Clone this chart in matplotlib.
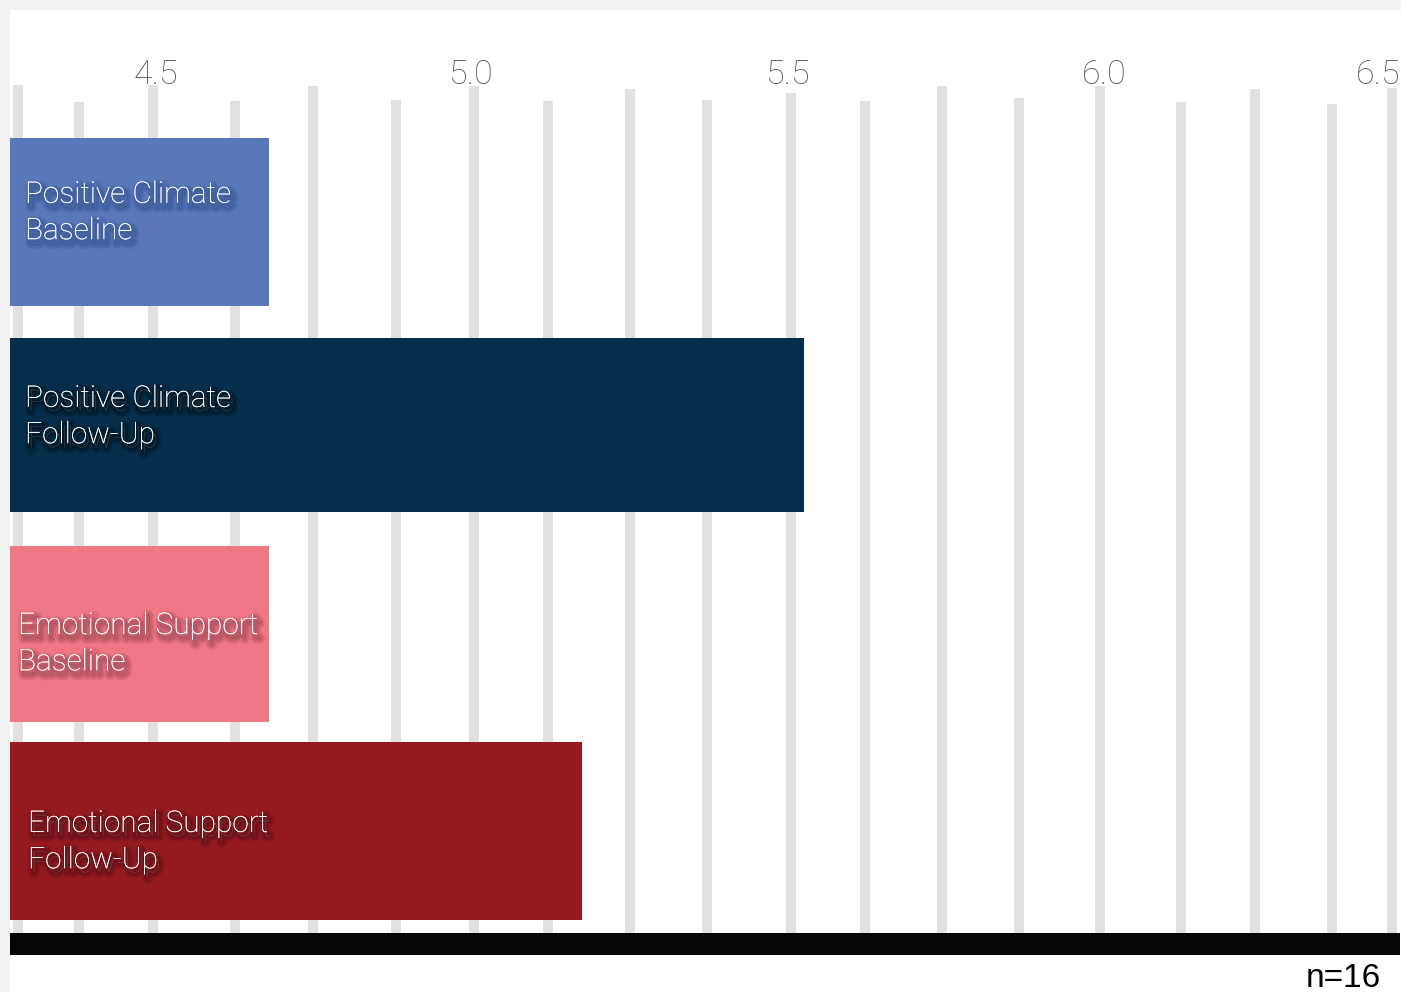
import matplotlib
matplotlib.use("Agg")
import matplotlib.pyplot as plt
import matplotlib.patheffects as pe
from matplotlib.patches import Rectangle

# ---------------- data ----------------
categories = ["Positive Climate\nBaseline", "Positive Climate\nFollow-Up",
              "Emotional Support\nBaseline", "Emotional Support\nFollow-Up"]
values = [4.68, 5.525, 4.68, 5.175]
bar_pos = [0.0, 1.0, 2.03, 3.0]
bar_heights = [0.83, 0.86, 0.87, 0.88]
bar_colors = ["#5878BA", "#042E4B", "#F07784", "#951A20"]
shadow_colors = ["#1f3a80", "#000000", "#7a2a35", "#3a0508"]
tick_values = [4.5, 5.0, 5.5, 6.0, 6.5]
tick_labels = ["4.5", "5.0", "5.5", "6.0", "6.5"]
grid_positions = [4.282, 4.379, 4.496, 4.626, 4.749, 4.880, 5.004, 5.121, 5.250,
                  5.372, 5.505, 5.622, 5.744, 5.866, 5.994, 6.121, 6.238, 6.361, 6.456]
note = "n=16"

# ---------------- style ----------------
W, H = 1401, 992
fig = plt.figure(figsize=(W / 100, H / 100), dpi=100)
fig.patch.set_facecolor("#f3f3f3")
fig.add_artist(Rectangle((10 / W, 0), 1 - 10 / W, (H - 10) / H, transform=fig.transFigure,
                         facecolor="white", edgecolor="none", zorder=-5))

ax_left, ax_right, ax_top, ax_bot = 10, 1400, 88, 933
ax = fig.add_axes([ax_left / W, (H - ax_bot) / H, (ax_right - ax_left) / W, (ax_bot - ax_top) / H])
ax.set_facecolor("none")
for s in ax.spines.values():
    s.set_visible(False)

xmin, xmax = 4.2697, 6.468
ax.set_xlim(xmin, xmax)
ax.set_ylim(3.502, -0.660)

# gridlines (tops vary as in the original)
grid_tops = [85, 102, 85, 101, 86, 100, 86, 101, 89, 100, 93, 101, 86, 98, 86, 102, 89, 104, 88]
for gx, gt in zip(grid_positions, grid_tops):
    ax.axvline(gx, ymin=0, ymax=(ax_bot - gt) / (ax_bot - ax_top), color="#e0e1e0",
               lw=7.2, solid_capstyle="butt", zorder=1, clip_on=False)

ax.barh(bar_pos, [v - xmin for v in values], left=xmin, height=bar_heights,
        color=bar_colors, zorder=2)

ax.set_xticks([])
ax.set_yticks([])

# tick labels on top
tick_font = dict(family=["Roboto", "Lato", "Liberation Sans"], weight="light",
                 fontsize=24.5, color="#555555")
for tv, tl in zip(tick_values, tick_labels):
    if tv <= xmax:
        ax.annotate(tl, xy=(tv, 1.0), xycoords=("data", "axes fraction"), ha="center", va="bottom",
                    xytext=(0, -2), textcoords="offset points", annotation_clip=False, **tick_font)
    else:
        ax.annotate(tl, xy=(1.0, 1.0), xycoords="axes fraction", ha="right", va="bottom",
                    xytext=(0, -2), textcoords="offset points", annotation_clip=False, **tick_font)

# bar labels
label_dx = [15, 15, 8, 18]
label_dy = [-9, -8, 10, 11]
for i, (cat, sc) in enumerate(zip(categories, shadow_colors)):
    effects = [pe.Stroke(offset=(2, -3), linewidth=w, foreground=sc, alpha=0.12) for w in (8, 6, 4, 2)]
    effects += [pe.withSimplePatchShadow(offset=(2, -3), shadow_rgbFace=sc, alpha=0.45), pe.Normal()]
    ax.annotate(cat, xy=(xmin, bar_pos[i]), xycoords="data",
                xytext=(label_dx[i] * 0.72, -label_dy[i] * 0.72), textcoords="offset points",
                ha="left", va="center", color="white", fontsize=21.5, linespacing=1.38,
                family=["Roboto", "Liberation Sans"], weight="light",
                path_effects=effects, zorder=3)

# thick black base bar
fig.add_artist(Rectangle((10 / W, (H - 955) / H), 1390 / W, 22 / H, transform=fig.transFigure,
                         facecolor="#040708", edgecolor="none", zorder=5))

fig.text(1381 / W, (H - 987) / H, note, ha="right", va="baseline", fontsize=24,
         color="black", family=["Liberation Sans"])

fig.savefig("out.png", dpi=100, facecolor=fig.get_facecolor())
